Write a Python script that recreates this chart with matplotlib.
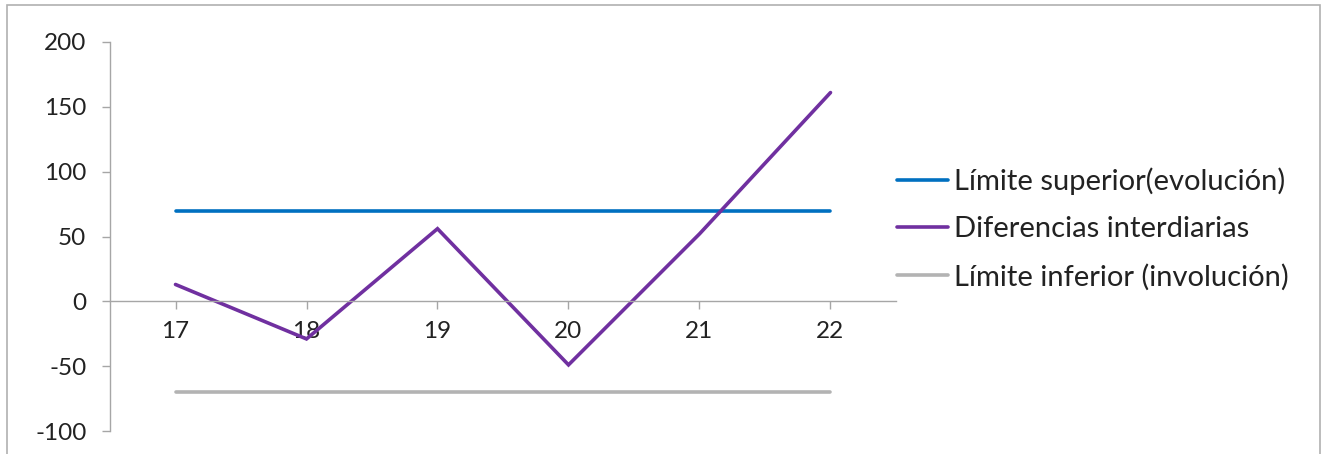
import matplotlib
matplotlib.use("Agg")
import matplotlib.pyplot as plt
from matplotlib.patches import Rectangle

plt.rcParams['font.family'] = ['Lato', 'DejaVu Sans']

categories = ["17", "18", "19", "20", "21", "22"]
limite_superior = [70, 70, 70, 70, 70, 70]
diferencias = [13, -29, 56, -49, 52, 161]
limite_inferior = [-70, -70, -70, -70, -70, -70]
yticks = [-100, -50, 0, 50, 100, 150, 200]

fig = plt.figure(figsize=(13.25, 4.54), dpi=100)
ax = fig.add_axes([110/1325, 1 - 431/454, (896 - 110)/1325, (431 - 42)/454])

x = list(range(len(categories)))
ax.plot(x, limite_superior, color="#0070C0", lw=2.6, solid_capstyle="round",
        label="Límite superior(evolución)")
ax.plot(x, diferencias, color="#7030A0", lw=2.6, solid_capstyle="round",
        solid_joinstyle="miter", label="Diferencias interdiarias")
ax.plot(x, limite_inferior, color="#B3B3B3", lw=2.6, solid_capstyle="round",
        label="Límite inferior (involución)")

ax.set_xlim(-0.5, len(categories) - 0.5)
ax.set_ylim(-100, 200)
ax.set_yticks(yticks)
ax.set_yticklabels([str(v) for v in yticks])
ax.set_xticks(x)
ax.set_xticklabels(categories)

axis_col = "#A6A6A6"
for s in ["top", "right"]:
    ax.spines[s].set_visible(False)
ax.spines["bottom"].set_position(("data", 0))
ax.spines["left"].set_color(axis_col)
ax.spines["bottom"].set_color(axis_col)
ax.spines["left"].set_linewidth(1.0)
ax.spines["bottom"].set_linewidth(1.0)
ax.tick_params(axis="y", direction="out", length=6, width=1, color=axis_col,
               labelsize=17.5, pad=11, labelcolor="#222222")
ax.tick_params(axis="x", direction="out", length=6, width=1, color=axis_col,
               labelsize=17.5, pad=8, labelcolor="#222222")

leg = fig.legend(loc="center left", bbox_to_anchor=(885/1325, 1 - 229/454),
                 frameon=False, fontsize=21, handlelength=1.75,
                 handletextpad=0.2, labelspacing=0.72, borderaxespad=0)
for t in leg.get_texts():
    t.set_color("#222222")

fig.patches.append(Rectangle((7/1325, -0.1), (1320 - 7)/1325, (0.1 + 1 - 5/454),
                             transform=fig.transFigure, fill=False,
                             edgecolor="#B0B0B0", lw=1.2))

fig.savefig("out.png", dpi=100)
